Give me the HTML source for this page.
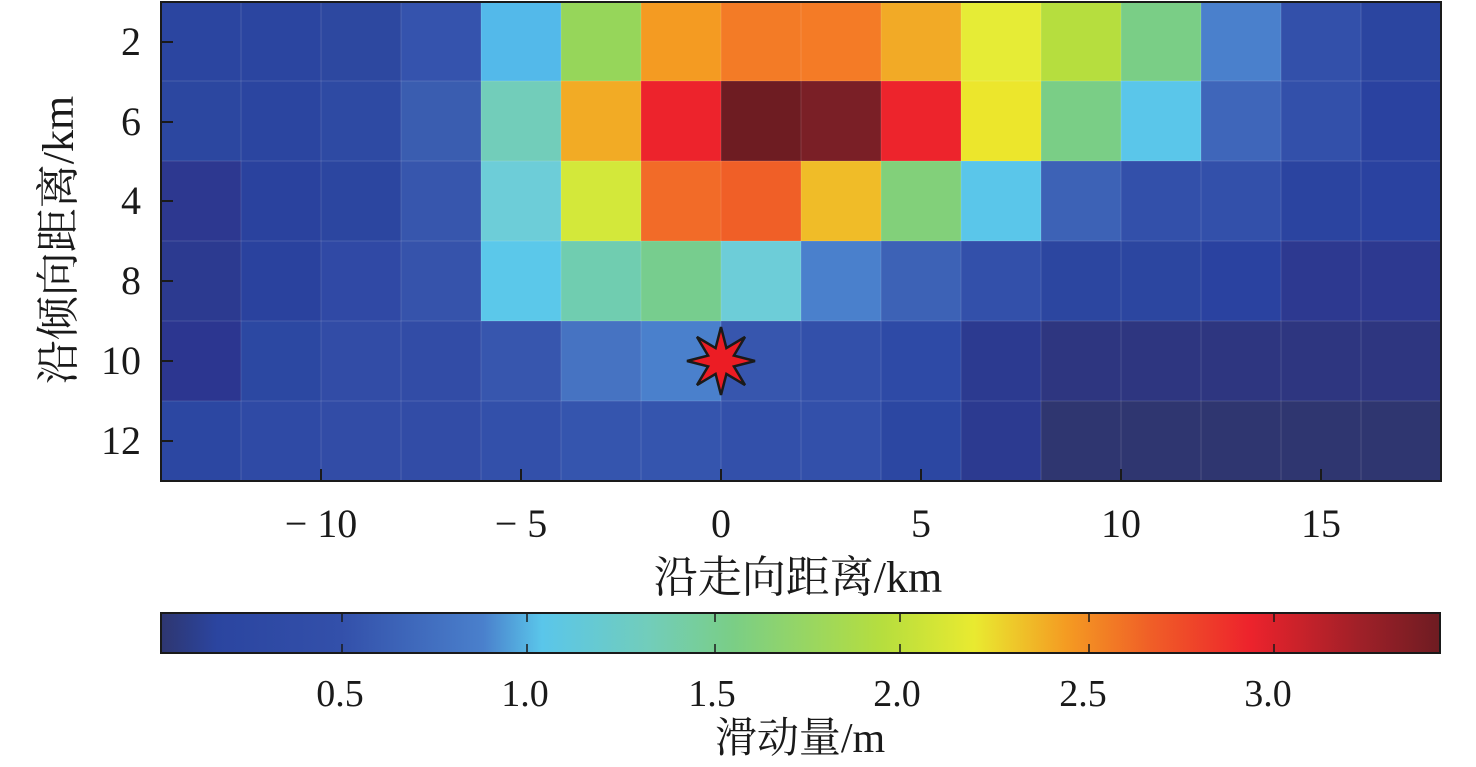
<!DOCTYPE html>
<html><head><meta charset="utf-8"><style>
html,body{margin:0;padding:0;background:#fff;}
svg{display:block;}
text{font-family:"Liberation Serif","Noto Serif CJK SC",serif;fill:#1a1a1a;}
</style></head><body>
<svg width="1476" height="767" viewBox="0 0 1476 767" xmlns="http://www.w3.org/2000/svg">
<defs>
<linearGradient id="cb" x1="0" x2="1" y1="0" y2="0">
<stop offset="0" stop-color="#2e3670"/>
<stop offset="0.044" stop-color="#2b45a0"/>
<stop offset="0.141" stop-color="#3350aa"/>
<stop offset="0.252" stop-color="#4a80cc"/>
<stop offset="0.298" stop-color="#5ac6ea"/>
<stop offset="0.382" stop-color="#72cdba"/>
<stop offset="0.447" stop-color="#7ace86"/>
<stop offset="0.564" stop-color="#b6de3e"/>
<stop offset="0.636" stop-color="#e9ea30"/>
<stop offset="0.708" stop-color="#f49b22"/>
<stop offset="0.773" stop-color="#f05f27"/>
<stop offset="0.851" stop-color="#ed232c"/>
<stop offset="0.936" stop-color="#a02028"/>
<stop offset="1" stop-color="#6e1c22"/>
</linearGradient>
</defs>
<g id="cells"></g>
<g id="grid" stroke="rgba(255,255,255,0.14)" stroke-width="1"></g>
<rect x="161" y="2" width="1280" height="479" fill="none" stroke="#1a1a1a" stroke-width="2"/>
<g stroke="#1a1a1a" stroke-width="2">
<line x1="161" y1="42" x2="173" y2="42"/><line x1="161" y1="122" x2="173" y2="122"/>
<line x1="161" y1="201" x2="173" y2="201"/><line x1="161" y1="281" x2="173" y2="281"/>
<line x1="161" y1="361" x2="173" y2="361"/><line x1="161" y1="441" x2="173" y2="441"/>
<line x1="321" y1="481" x2="321" y2="469"/><line x1="521" y1="481" x2="521" y2="469"/>
<line x1="721" y1="481" x2="721" y2="469"/><line x1="921" y1="481" x2="921" y2="469"/>
<line x1="1121" y1="481" x2="1121" y2="469"/><line x1="1321" y1="481" x2="1321" y2="469"/>
</g>
<polygon id="star" fill="#ec1c24" stroke="#1a1a1a" stroke-width="2.5" points=""/>
<g font-size="40" text-anchor="end">
<text x="141" y="55">2</text><text x="141" y="135">6</text><text x="141" y="214">4</text>
<text x="141" y="294">8</text><text x="141" y="374">10</text><text x="141" y="454">12</text>
</g>
<g font-size="40" text-anchor="middle">
<text x="321" y="537">− 10</text><text x="521" y="537">− 5</text><text x="721" y="537">0</text>
<text x="921" y="537">5</text><text x="1121" y="537">10</text><text x="1321" y="537">15</text>
</g>
<text x="798" y="592" font-size="44" text-anchor="middle">沿走向距离/km</text>
<text transform="translate(73,240) rotate(-90)" font-size="44" text-anchor="middle">沿倾向距离/km</text>
<rect x="161" y="613" width="1279" height="40" fill="url(#cb)" stroke="#1a1a1a" stroke-width="2"/>
<g stroke="#1a1a1a" stroke-width="1.5">
<line x1="342" y1="613" x2="342" y2="622"/><line x1="342" y1="653" x2="342" y2="644"/>
<line x1="527" y1="613" x2="527" y2="622"/><line x1="527" y1="653" x2="527" y2="644"/>
<line x1="715" y1="613" x2="715" y2="622"/><line x1="715" y1="653" x2="715" y2="644"/>
<line x1="900" y1="613" x2="900" y2="622"/><line x1="900" y1="653" x2="900" y2="644"/>
<line x1="1089" y1="613" x2="1089" y2="622"/><line x1="1089" y1="653" x2="1089" y2="644"/>
<line x1="1274" y1="613" x2="1274" y2="622"/><line x1="1274" y1="653" x2="1274" y2="644"/>
</g>
<g font-size="38" text-anchor="middle">
<text x="340" y="706">0.5</text><text x="525" y="706">1.0</text><text x="712" y="706">1.5</text>
<text x="897" y="706">2.0</text><text x="1083" y="706">2.5</text><text x="1268" y="706">3.0</text>
</g>
<text x="800" y="752" font-size="42" text-anchor="middle">滑动量/m</text>
</svg>
<script>
var C=[
["#2b45a0","#2b45a0","#2d48a0","#3553ad","#53b9ea","#96d65a","#f49b22","#f37b26","#f47b26","#f2aa26","#e6ec36","#b6de3e","#7ace86","#4a80cc","#3350aa","#2b45a0"],
["#2c47a0","#2b45a0","#2e4aa3","#3a5db0","#72cdba","#f2ab25","#ed232c","#6e1c22","#7a1f26","#ed242c","#ece62c","#7ace86","#5ac6ea","#3f66ba","#3350aa","#2a42a0"],
["#2d3890","#2a429e","#2c46a0","#3756ad","#6dcdd8","#d3e83a","#f26b28","#f05f27","#f0bc28","#82d07a","#5ac6ea","#3d62b6","#3350aa","#3350aa","#2b44a0","#2a42a0"],
["#2c3a90","#2a429e","#3049a5","#3653ab","#5bc8ea","#70cdb0","#77cd8e","#6dcdd8","#4a80cc","#3d62b6","#3350aa","#2c46a0","#2c46a0","#2a42a0","#2d3990","#2d3990"],
["#2c3690","#2c48a2","#324ca6","#324ca6","#3756ae","#4673c2","#4a80cc","#3756ae","#3350aa","#2e4aa6","#2c3a90","#2e3680","#2e3680","#2e3680","#2e3680","#2e3680"],
["#2c47a2","#2f4aa5","#324ca6","#324ca6","#3350aa","#3555ae","#3555ae","#3350aa","#3350aa","#2c47a2","#2c3a90","#2f3670","#2f3670","#2f3670","#2f3670","#2f3670"]];
var ns="http://www.w3.org/2000/svg",g=document.getElementById("cells"),gr=document.getElementById("grid");
for(var r=0;r<6;r++)for(var c=0;c<16;c++){var e=document.createElementNS(ns,"rect");
e.setAttribute("x",161+c*80);e.setAttribute("y",1+r*80);e.setAttribute("width",80.5);e.setAttribute("height",80.5);e.setAttribute("fill",C[r][c]);g.appendChild(e);}
for(var i=1;i<16;i++){var l=document.createElementNS(ns,"line");l.setAttribute("x1",161+i*80);l.setAttribute("x2",161+i*80);l.setAttribute("y1",2);l.setAttribute("y2",481);gr.appendChild(l);}
for(var j=1;j<6;j++){var l=document.createElementNS(ns,"line");l.setAttribute("x1",161);l.setAttribute("x2",1441);l.setAttribute("y1",1+j*80);l.setAttribute("y2",1+j*80);gr.appendChild(l);}
var p=[];for(var k=0;k<16;k++){var a=-Math.PI/2+k*Math.PI/8,rr=k%2?14:34;p.push((721+rr*Math.cos(a)).toFixed(1)+","+(361+rr*Math.sin(a)).toFixed(1));}
document.getElementById("star").setAttribute("points",p.join(" "));
</script>
</body></html>
